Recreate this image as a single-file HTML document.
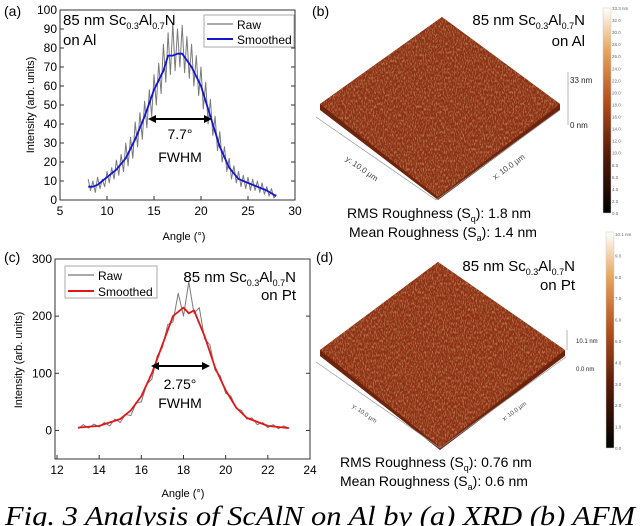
<!DOCTYPE html>
<html><head><meta charset="utf-8"><style>
html,body{margin:0;padding:0;background:#fff;}
svg{display:block;font-family:"Liberation Sans",sans-serif;}
</style></head><body>
<svg id="fig" width="640" height="526" viewBox="0 0 640 526">
<defs>
<filter id="rough" x="0" y="0" width="1" height="1">
<feTurbulence type="fractalNoise" baseFrequency="0.9 0.35" numOctaves="2" seed="3" result="n"/>
<feColorMatrix in="n" type="matrix" values="0 0 0 0 0.75  0 0 0 0 0.32  0 0 0 0 0.14  0 0 0 1.6 -0.75" result="c"/>
<feComposite in="c" in2="SourceGraphic" operator="in" result="d"/>
<feMerge><feMergeNode in="SourceGraphic"/><feMergeNode in="d"/></feMerge>
</filter>
<linearGradient id="cbar" x1="0" y1="1" x2="0" y2="0">
<stop offset="0" stop-color="#000"/><stop offset="0.3" stop-color="#5a1c08"/><stop offset="0.55" stop-color="#b5501e"/><stop offset="0.8" stop-color="#e8a860"/><stop offset="1" stop-color="#fff"/>
</linearGradient>
</defs>

<g>
<text x="4" y="16" font-size="14">(a)</text>
<rect x="60" y="10" width="235" height="190" fill="none" stroke="#333"/>
<g id="axA"></g>
<g id="serA"></g>
<text x="63" y="25" font-size="15">85 nm Sc<tspan font-size="9" dy="4">0.3</tspan><tspan dy="-4">Al</tspan><tspan font-size="9" dy="4">0.7</tspan><tspan dy="-4">N</tspan></text>
<text x="63" y="45" font-size="15">on Al</text>
<g>
<rect x="204" y="15" width="90" height="32" fill="#fff" stroke="#aaa"/>
<line x1="207" y1="24" x2="233" y2="24" stroke="#777" stroke-width="1.2"/>
<text x="237" y="29" font-size="12">Raw</text>
<line x1="207" y1="39" x2="233" y2="39" stroke="#1515d0" stroke-width="2"/>
<text x="237" y="44" font-size="12">Smoothed</text>
</g>
<line x1="150" y1="119" x2="210" y2="119" stroke="#000" stroke-width="2"/>
<polygon points="148,119 156,115 156,123" fill="#000"/><polygon points="212,119 204,115 204,123" fill="#000"/>
<text x="180" y="139" font-size="14" text-anchor="middle">7.7°</text>
<text x="180" y="162" font-size="14" text-anchor="middle">FWHM</text>
<text x="184" y="240" font-size="11" text-anchor="middle">Angle (°)</text>
<text transform="translate(34,105) rotate(-90)" font-size="11" text-anchor="middle">Intensity (arb. units)</text>
</g>

<g>
<text x="4" y="262" font-size="14">(c)</text>
<rect x="55" y="259" width="255" height="200" fill="none" stroke="#333"/>
<g id="axC"></g>
<g id="serC"></g>
<g>
<rect x="65" y="266" width="92" height="32" fill="#fff" stroke="#aaa"/>
<line x1="68" y1="275" x2="94" y2="275" stroke="#777" stroke-width="1.2"/>
<text x="98" y="280" font-size="12">Raw</text>
<line x1="68" y1="291" x2="94" y2="291" stroke="#e01818" stroke-width="2"/>
<text x="98" y="296" font-size="12">Smoothed</text>
</g>
<text x="296" y="282" font-size="15" text-anchor="end">85 nm Sc<tspan font-size="9" dy="4">0.3</tspan><tspan dy="-4">Al</tspan><tspan font-size="9" dy="4">0.7</tspan><tspan dy="-4">N</tspan></text>
<text x="296" y="300" font-size="15" text-anchor="end">on Pt</text>
<line x1="153" y1="366" x2="208" y2="366" stroke="#000" stroke-width="2"/>
<polygon points="151,366 159,362 159,370" fill="#000"/><polygon points="210,366 202,362 202,370" fill="#000"/>
<text x="180" y="389" font-size="14" text-anchor="middle">2.75°</text>
<text x="180" y="408" font-size="14" text-anchor="middle">FWHM</text>
<text x="183" y="497" font-size="11" text-anchor="middle">Angle (°)</text>
<text transform="translate(22,360) rotate(-90)" font-size="11" text-anchor="middle">Intensity (arb. units)</text>
</g>

<g>
<text x="312" y="16" font-size="14">(b)</text>
<polygon points="442,17 560,104 560,110 438,200 320,110 320,104" fill="#6e240c"/>
<polygon points="442,17 560,104 438,197 320,104" fill="#8c3012" filter="url(#rough)"/>
<line x1="316" y1="117" x2="436" y2="200" stroke="#999" stroke-width="0.7"/>
<line x1="436" y1="200" x2="560" y2="110" stroke="#999" stroke-width="0.7"/>
<text transform="translate(345,160) rotate(35)" font-size="8" fill="#444">y: 10.0 µm</text>
<text transform="translate(495,180) rotate(-36)" font-size="8" fill="#444">x: 10.0 µm</text>
<line x1="568" y1="72" x2="568" y2="125" stroke="#999" stroke-width="0.7"/>
<text x="570" y="83" font-size="8" fill="#222">33 nm</text>
<text x="570" y="128" font-size="8" fill="#222">0 nm</text>
<text x="585" y="25" font-size="15" text-anchor="end">85 nm Sc<tspan font-size="9" dy="4">0.3</tspan><tspan dy="-4">Al</tspan><tspan font-size="9" dy="4">0.7</tspan><tspan dy="-4">N</tspan></text>
<text x="585" y="46" font-size="15" text-anchor="end">on Al</text>
<rect x="603" y="8" width="8" height="205" fill="url(#cbar)" stroke="#ccc" stroke-width="0.5"/>
<g id="cbB" font-size="4.5" fill="#666"></g>
<text x="347" y="218" font-size="14">RMS Roughness (S<tspan font-size="9" dy="4">q</tspan><tspan dy="-4">): 1.8 nm</tspan></text>
<text x="349" y="237" font-size="14">Mean Roughness (S<tspan font-size="9" dy="4">a</tspan><tspan dy="-4">): 1.4 nm</tspan></text>
</g>

<g>
<text x="316" y="262" font-size="14">(d)</text>
<polygon points="438,262 565,350 565,356 440,450 320,356 320,350" fill="#6e240c"/>
<polygon points="438,262 565,350 440,447 320,350" fill="#8e3213" filter="url(#rough)"/>
<line x1="316" y1="362" x2="440" y2="448" stroke="#999" stroke-width="0.7"/>
<line x1="440" y1="448" x2="566" y2="357" stroke="#999" stroke-width="0.7"/>
<text transform="translate(352,407) rotate(35)" font-size="6" fill="#444">y: 10.0 µm</text>
<text transform="translate(504,421) rotate(-36)" font-size="6" fill="#444">x: 10.0 µm</text>
<line x1="567" y1="330" x2="567" y2="350" stroke="#999" stroke-width="0.7"/>
<text x="576" y="343" font-size="6" fill="#222">10.1 nm</text>
<text x="576" y="371" font-size="6" fill="#222">0.0 nm</text>
<text x="575" y="271" font-size="15" text-anchor="end">85 nm Sc<tspan font-size="9" dy="4">0.3</tspan><tspan dy="-4">Al</tspan><tspan font-size="9" dy="4">0.7</tspan><tspan dy="-4">N</tspan></text>
<text x="575" y="290" font-size="15" text-anchor="end">on Pt</text>
<rect x="606" y="232" width="8" height="216" fill="url(#cbar)" stroke="#ccc" stroke-width="0.5"/>
<g id="cbD" font-size="4.5" fill="#666"></g>
<text x="340" y="467" font-size="14">RMS Roughness (S<tspan font-size="9" dy="4">q</tspan><tspan dy="-4">): 0.76 nm</tspan></text>
<text x="340" y="486" font-size="14">Mean Roughness (S<tspan font-size="9" dy="4">a</tspan><tspan dy="-4">): 0.6 nm</tspan></text>
</g>

<text x="5" y="525" font-size="27" font-style="italic" font-family="Liberation Serif, serif" textLength="630" lengthAdjust="spacingAndGlyphs">Fig. 3 Analysis of ScAlN on Al by (a) XRD (b) AFM</text>
</svg>
<script>
const NS="http://www.w3.org/2000/svg";
const aTicksX=[5,10,15,20,25,30];
const aTicksY=[0,10,20,30,40,50,60,70,80,90,100];
const aRawX=[8,8.25,8.5,8.75,9,9.25,9.5,9.75,10,10.25,10.5,10.75,11,11.25,11.5,11.75,12,12.25,12.5,12.75,13,13.25,13.5,13.75,14,14.25,14.5,14.75,15,15.25,15.5,15.75,16,16.25,16.5,16.75,17,17.25,17.5,17.75,18,18.25,18.5,18.75,19,19.25,19.5,19.75,20,20.25,20.5,20.75,21,21.25,21.5,21.75,22,22.25,22.5,22.75,23,23.25,23.5,23.75,24,24.25,24.5,24.75,25,25.25,25.5,25.75,26,26.25,26.5,26.75,27,27.25,27.5,27.75,28];
const aRawY=[11,5,10,4,12,6,11,7,15,9,17,11,21,13,24,15,30,18,33,22,41,28,46,32,52,38,58,44,66,50,72,56,82,62,88,66,93,68,90,70,92,67,86,64,82,60,76,55,70,48,62,40,53,34,44,26,36,20,28,15,22,11,18,9,15,7,13,6,12,5,11,5,10,4,9,3,7,2,6,1,3];
const aSmX=[8,8.5,9,10,11,12,13,14,15,16,16.5,17,17.5,18,19,20,21,22,23,24,25,26,27,28];
const aSmY=[7,7,8,12,16,22,32,44,58,68,76,76,77,77,70,60,44,28,17,11,9,7,5,2];
const cTicksX=[12,14,16,18,20,22,24];
const cTicksY=[0,100,200,300];
const cRawX=[13,13.25,13.5,13.75,14,14.25,14.5,14.75,15,15.25,15.5,15.75,16,16.25,16.5,16.75,17,17.25,17.5,17.75,18,18.25,18.5,18.75,19,19.25,19.5,19.75,20,20.25,20.5,20.75,21,21.25,21.5,21.75,22,22.25,22.5,22.75,23];
const cRawY=[3,10,4,11,6,14,8,20,14,28,26,48,50,80,90,130,145,185,190,240,200,260,205,215,160,150,105,95,65,60,38,35,20,22,10,14,5,10,3,8,4];
const cSmX=[13,14,15,15.5,16,16.5,17,17.5,18,18.25,18.5,19,19.5,20,20.5,21,22,23];
const cSmY=[5,8,20,35,60,100,150,200,215,205,210,165,110,70,40,22,8,4];
const bBar=["33.3 nm","32.0","30.0","28.0","26.0","24.0","22.0","20.0","18.0","16.0","14.0","12.0","10.0","8.0","6.0","4.0","2.0","0.0"];
const dBar=["10.1 nm","9.0","8.0","7.0","6.0","5.0","4.0","3.0","2.0","1.0","0.0"];

function el(tag,attrs,parent){const e=document.createElementNS(NS,tag);for(const k in attrs)e.setAttribute(k,attrs[k]);parent.appendChild(e);return e;}
function lin(d0,d1,r0,r1){return v=>r0+(v-d0)/(d1-d0)*(r1-r0);}
function axes(g,sx,sy,tx,ty,x0,x1,y0,y1,name){
  tx.forEach(t=>{const l=el('line',{x1:sx(t),x2:sx(t),y1:y1,y2:y1-4,stroke:'#333'},g);
    
    
    const s=el('text',{x:sx(t),y:y1+15,'font-size':12,'text-anchor':'middle'},g);s.textContent=t;
    
    });
  ty.forEach(t=>{const l=el('line',{x1:x0,x2:x0+4,y1:sy(t),y2:sy(t),stroke:'#333'},g);
    
    
    el('line',{x1:x1,x2:x1-4,y1:sy(t),y2:sy(t),stroke:'#333'},g);
    const s=el('text',{x:x0-3,y:sy(t)+4,'font-size':12,'text-anchor':'end'},g);s.textContent=t;
    
    });
}
function line(g,xs,ys,sx,sy,col,w,name){
  const d=xs.map((x,i)=>(i?'L':'M')+sx(x).toFixed(1)+','+sy(ys[i]).toFixed(1)).join('');
  const p=el('path',{d:d,fill:'none',stroke:col,'stroke-width':w,'stroke-linejoin':'round'},g);
  
  
}
const axA=lin(5,30,60,295), ayA=lin(0,100,200,10);
axes(document.getElementById('axA'),axA,ayA,aTicksX,aTicksY,60,295,10,200,'panel-a');
line(document.getElementById('serA'),aRawX,aRawY,axA,ayA,'#7a7a7a',1,'raw-series-a');
line(document.getElementById('serA'),aSmX,aSmY,axA,ayA,'#1515d0',1.8,'smoothed-series-a');
const axC=lin(12,24,57,310), ayC=lin(-50,300,459,259);
axes(document.getElementById('axC'),axC,ayC,cTicksX,cTicksY,55,310,259,459,'panel-c');
line(document.getElementById('serC'),cRawX,cRawY,axC,ayC,'#7a7a7a',1,'raw-series-c');
line(document.getElementById('serC'),cSmX,cSmY,axC,ayC,'#e01818',1.8,'smoothed-series-c');
function cb(g,labels,x,y0,y1,name){labels.forEach((t,i)=>{const y=y0+(y1-y0)*i/(labels.length-1);
  const s=el('text',{x:x,y:y+2},g);s.textContent=t;
  
  });}
cb(document.getElementById('cbB'),bBar,612,8,213,'colorbar-b-label');
cb(document.getElementById('cbD'),dBar,615,234,448,'colorbar-d-label');
</script>
</body></html>
